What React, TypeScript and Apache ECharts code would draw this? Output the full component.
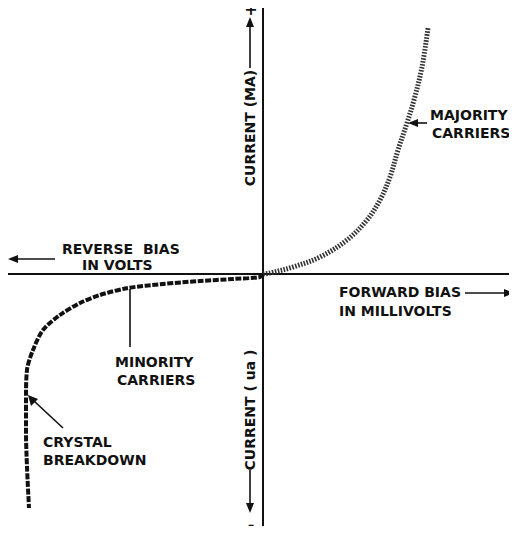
import React, { useEffect, useRef } from "react";
import * as echarts from "echarts";

// Forward bias (majority carriers): [bias, current] in arbitrary chart units
const forwardBias = [0, 7, 30, 57, 84, 104, 117, 127, 135, 144, 151, 159, 165];
const forwardCurrent = [0, 1, 7, 17, 34, 54, 74, 97, 124, 151, 174, 207, 246];

// Reverse bias (minority carriers -> crystal breakdown)
const reverseBias = [0, -3, -30, -63, -100, -135, -163, -183, -203, -220, -230, -236, -237, -237, -236, -234];
const reverseCurrent = [0, -3, -5, -7, -10, -14, -21, -29, -41, -56, -76, -96, -126, -159, -193, -234];

const axisLabels = {
  reverse: ["REVERSE  BIAS", "IN VOLTS"],
  forward: ["FORWARD BIAS", "IN MILLIVOLTS"],
  up: "CURRENT (MA)",
  down: "CURRENT ( ua )",
};

const FONT = "DejaVu Sans";
const INK = "#111";

function txt(text: string, x: number, y: number, extra: any = {}) {
  return {
    type: "text",
    x,
    y,
    rotation: extra.rotation || 0,
    style: {
      text,
      fill: INK,
      fontFamily: FONT,
      fontWeight: "bold",
      fontSize: extra.size || 14,
      align: extra.align || "left",
      verticalAlign: "middle",
    },
  };
}

function line(x1: number, y1: number, x2: number, y2: number, w = 1.6) {
  return {
    type: "line",
    shape: { x1, y1, x2, y2 },
    style: { stroke: INK, lineWidth: w },
  };
}

function head(points: number[][]) {
  return { type: "polygon", shape: { points }, style: { fill: INK } };
}

export default function App() {
  const ref = useRef<HTMLDivElement>(null);
  useEffect(() => {
    if (!ref.current) return;
    const chart = echarts.init(ref.current, null, { renderer: "svg" });
    const fwd = forwardBias.map((x, i) => [x, forwardCurrent[i]]);
    const rev = reverseBias.map((x, i) => [x, reverseCurrent[i]]);
    chart.setOption({
      animation: false,
      backgroundColor: "#fff",
      grid: { left: 8, right: 0, top: 8, bottom: 4 },
      xAxis: {
        type: "value",
        min: -255,
        max: 254,
        axisLine: { show: true, onZero: true, lineStyle: { color: INK, width: 2 } },
        axisTick: { show: false },
        axisLabel: { show: false },
        splitLine: { show: false },
      },
      yAxis: {
        type: "value",
        min: -256,
        max: 266,
        axisLine: { show: true, onZero: true, lineStyle: { color: INK, width: 2 } },
        axisTick: { show: false },
        axisLabel: { show: false },
        splitLine: { show: false },
      },
      series: [
        {
          type: "line",
          data: fwd,
          smooth: 0.35,
          showSymbol: false,
          lineStyle: { color: "#333", width: 5, type: [1.6, 1.4] },
          z: 3,
        },
        {
          type: "line",
          data: rev,
          smooth: 0.3,
          showSymbol: false,
          lineStyle: { color: "#111", width: 4, type: [6, 1.6] },
          z: 3,
        },
      ],
      graphic: [
        // reverse bias label + arrow
        txt(axisLabels.reverse[0], 62, 249),
        txt(axisLabels.reverse[1], 82, 265),
        line(55, 259, 16, 259),
        head([[8, 259], [18, 255], [18, 263]]),
        // forward bias label + arrow
        txt(axisLabels.forward[0], 339, 292),
        txt(axisLabels.forward[1], 339, 311),
        line(465, 293, 505, 293),
        head([[514, 293], [504, 289], [504, 297]]),
        // current (MA) up
        txt(axisLabels.up, 250, 128, { rotation: Math.PI / 2, align: "center" }),
        line(250, 68, 250, 25),
        head([[250, 17], [246, 27], [254, 27]]),
        txt("+", 251, 9, { align: "center", size: 16 }),
        // current (ua) down
        txt(axisLabels.down, 250, 410, { rotation: Math.PI / 2, align: "center" }),
        line(250, 470, 250, 504),
        head([[250, 513], [246, 503], [254, 503]]),
        txt("-", 251, 524, { align: "center", size: 16 }),
        // majority carriers
        txt("MAJORITY", 430, 115),
        txt("CARRIERS", 432, 133),
        line(427, 123, 416, 123),
        head([[408, 123], [418, 119], [418, 127]]),
        // minority carriers
        txt("MINORITY", 115, 362),
        txt("CARRIERS", 117, 380),
        line(130, 347, 130, 289),
        // crystal breakdown
        txt("CRYSTAL", 43, 442),
        txt("BREAKDOWN", 43, 460),
        line(63, 428, 34, 401),
        head([[28, 395], [31, 406], [38, 399]]),
      ],
    });
    return () => chart.dispose();
  }, []);
  return <div ref={ref} style={{ width: 517, height: 534, margin: -8 }} />;
}
